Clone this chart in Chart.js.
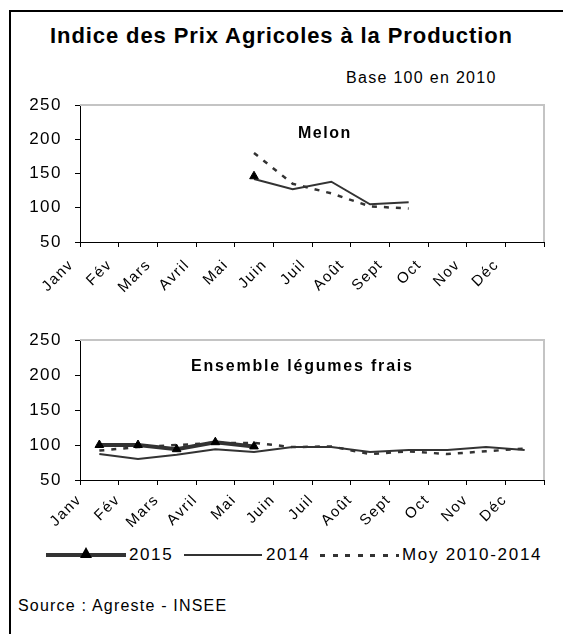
<!DOCTYPE html>
<html>
<head>
<meta charset="utf-8">
<script src="https://cdn.jsdelivr.net/npm/chart.js@4/dist/chart.umd.min.js"></script>
<style>
  body { margin:0; width:563px; height:634px; overflow:hidden; background:#fff; position:relative;
         font-family:"Liberation Sans", Arial, sans-serif; color:#000; }
  .cadre { position:absolute; left:9px; top:10px; width:700px; height:700px;
           border-left:2px solid #000; border-top:2px solid #000; }
  .txt { position:absolute; white-space:nowrap; z-index:2; }
  .zone { position:absolute; left:0; }
  .leg { position:absolute; top:553px; height:4px; }
</style>
</head>
<body>
<div class="cadre"></div>
<div class="txt" style="left:0;width:563px;top:23px;text-align:center;font-weight:bold;font-size:22px;letter-spacing:0.9px;">Indice des Prix Agricoles à la Production</div>
<div class="txt" style="left:346px;top:69px;font-size:16px;letter-spacing:1.3px;">Base 100 en 2010</div>

<canvas id="melon" class="zone" style="top:95px" width="550" height="215"></canvas>
<div class="txt" style="left:298px;top:124px;font-weight:bold;font-size:16px;letter-spacing:1.5px;">Melon</div>

<canvas id="legumes" class="zone" style="top:330px" width="550" height="210"></canvas>
<div class="txt" style="left:191px;top:357px;font-weight:bold;font-size:16px;letter-spacing:1.8px;">Ensemble légumes frais</div>

<!-- légende -->
<div class="leg" style="left:46px;width:80px;background:#333;"></div>
<div style="position:absolute;left:80px;top:547px;width:0;height:0;border-left:6px solid transparent;border-right:6px solid transparent;border-bottom:11px solid #000;"></div>
<div class="txt" style="left:129px;top:545px;font-size:17px;letter-spacing:1.6px;">2015</div>
<div class="leg" style="left:184px;width:78px;height:2px;top:554px;background:#333;"></div>
<div class="txt" style="left:266px;top:545px;font-size:17px;letter-spacing:1.6px;">2014</div>
<div class="leg" style="left:320px;width:79px;height:3px;top:554px;background:repeating-linear-gradient(to right,#333 0 5px,transparent 5px 12.6px);"></div>
<div class="txt" style="left:402px;top:545px;font-size:17px;letter-spacing:1.7px;">Moy 2010-2014</div>

<div class="txt" style="left:18px;top:597px;font-size:16px;letter-spacing:1.2px;">Source : Agreste - INSEE</div>

<script>
// axe des catégories et graduations
const mois = ['Janv', 'Fév', 'Mars', 'Avril', 'Mai', 'Juin', 'Juil', 'Août', 'Sept', 'Oct', 'Nov', 'Déc'];
const graduations = [50, 100, 150, 200, 250];

// Melon
const melon2015 = [null, null, null, null, 146, null, null, null, null, null, null, null];
const melon2014 = [null, null, null, null, 142, 127, 138, 105, 108, null, null, null];
const melonMoy = [null, null, null, null, 180, 135, 121, 102, 99, null, null, null];

// Ensemble légumes frais
const legumes2015 = [100, 100, 94, 104, 98, null, null, null, null, null, null, null];
const legumes2014 = [87, 80, 86, 94, 90, 97, 97, 90, 93, 93, 97, 93];
const legumesMoy = [92, 97, 100, 103, 103, 97, 98, 87, 91, 87, 91, 95];

const police = "'Liberation Sans', Arial, sans-serif";

// bordure grise du haut et de droite de la zone de tracé
const bordure = {
    id: 'bordure',
    beforeDatasetsDraw(chart) {
        const { ctx, chartArea: a } = chart;
        ctx.save();
        ctx.strokeStyle = '#c4c4c4';
        ctx.lineWidth = 2;
        ctx.beginPath();
        ctx.moveTo(a.left, a.top);
        ctx.lineTo(a.right, a.top);
        ctx.lineTo(a.right, a.bottom);
        ctx.stroke();
        ctx.restore();
    }
};

// espacement des lettres comme dans l'original
const espacement = {
    id: 'espacement',
    beforeLayout(chart) { chart.ctx.letterSpacing = '1.5px'; },
    beforeDraw(chart) { chart.ctx.letterSpacing = '1.5px'; }
};

function graphique(id, s2015, s2014, sMoy, hauteurX, decalage, marge) {
    return new Chart(document.getElementById(id), {
        type: 'line',
        data: {
            labels: mois,
            datasets: [
                { label: '2015', data: s2015, borderColor: '#333', borderWidth: 4,
                  pointStyle: 'triangle', pointRadius: 5, pointBackgroundColor: '#000', pointBorderColor: '#000',
                  pointBorderWidth: 1 },
                { label: '2014', data: s2014, borderColor: '#333', borderWidth: 2, pointRadius: 0 },
                { label: 'Moy 2010-2014', data: sMoy, borderColor: '#333', borderWidth: 2.5,
                  borderDash: [5, 7], pointRadius: 0 }
            ]
        },
        options: {
            responsive: false,
            animation: false,
            layout: { padding: { top: 10, right: 4, left: 0, bottom: 0 } },
            plugins: { legend: { display: false }, tooltip: { enabled: false } },
            elements: { line: { tension: 0 } },
            scales: {
                x: {
                    offset: true,
                    grid: { offset: true, drawOnChartArea: false, tickLength: 5, color: '#000' },
                    border: { color: '#000', width: 1 },
                    ticks: { autoSkip: false, minRotation: 45, maxRotation: 45, labelOffset: decalage,
                             padding: marge, color: '#000', font: { family: police, size: 15 } },
                    afterFit(s) { s.height = hauteurX; }
                },
                y: {
                    min: 50, max: 250,
                    afterBuildTicks(s) { s.ticks = graduations.map(v => ({ value: v })); },
                    grid: { drawOnChartArea: false, tickLength: 5, color: '#000' },
                    border: { color: '#000', width: 1 },
                    ticks: { padding: 13, color: '#000', font: { family: police, size: 17 } },
                    afterFit(s) { s.width = 80; s.paddingTop = 0; s.paddingBottom = 0; }
                }
            }
        },
        plugins: [bordure, espacement]
    });
}

graphique('melon', melon2015, melon2014, melonMoy, 68, -28, 9);
graphique('legumes', legumes2015, legumes2014, legumesMoy, 60, -20, 6);
</script>
</body>
</html>
